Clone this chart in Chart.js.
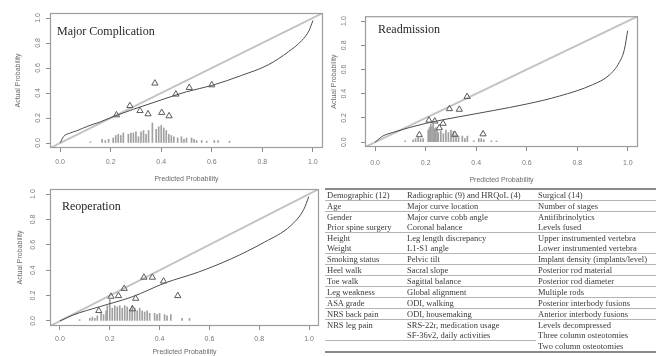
<!DOCTYPE html>
<html>
<head>
<meta charset="utf-8">
<script src="https://cdn.jsdelivr.net/npm/chart.js@4.4.1/dist/chart.umd.min.js"></script>
<style>
  body { margin: 0; background: #fff; }
  #page { position: relative; width: 656px; height: 356px; overflow: hidden; }
  canvas { position: absolute; }
  #vars {
    position: absolute; left: 325px; top: 188px; width: 331px;
    border-collapse: collapse; table-layout: fixed;
    font-family: "Liberation Serif", "Times New Roman", serif; font-size: 8.5px; color: #3a3a3a;
    border-top: 2px solid #8a8a8a; border-bottom: 2px solid #8a8a8a;
  }
  #vars td { height: 10px; line-height: 10px; padding: 0 0 0 2px; white-space: nowrap; overflow: hidden; }
  #vars tr.rule td { border-bottom: 1px solid #b4b4b4; }
  #vars tr.rule-l td.c1, #vars tr.rule-l td.c2 { border-bottom: 1px solid #b4b4b4; }
</style>
</head>
<body>
<div id="page">
  <canvas id="compChart" width="328" height="186" style="left:0;top:0"></canvas>
  <canvas id="readmChart" width="328" height="186" style="left:328px;top:0"></canvas>
  <canvas id="reopChart" width="324" height="180" style="left:0;top:176px"></canvas>
  <table id="vars">
    <colgroup><col style="width:80px"><col style="width:131px"><col style="width:120px"></colgroup>
    <tbody></tbody>
  </table>
</div>
<script>
// ideal line
var diagX = [-0.04, 1.04];
var diagY = [-0.04, 1.04];

// Major complication
var compTriX = [0.223, 0.276, 0.316, 0.348, 0.375, 0.402, 0.431, 0.458, 0.511, 0.600];
var compTriY = [0.224, 0.298, 0.258, 0.232, 0.478, 0.243, 0.216, 0.390, 0.443, 0.464];
var compCurveX = [0, 0.013, 0.04, 0.066, 0.11, 0.16, 0.219, 0.29, 0.4, 0.5, 0.6, 0.717, 0.823, 0.903, 0.956, 0.985, 1.0];
var compCurveY = [0, 0.05, 0.08, 0.098, 0.135, 0.17, 0.218, 0.27, 0.345, 0.41, 0.46, 0.54, 0.625, 0.73, 0.82, 0.9, 0.98];
var compRugX = [0.12, 0.166, 0.179, 0.192, 0.21, 0.22, 0.23, 0.24, 0.25, 0.27, 0.28, 0.29, 0.30, 0.31, 0.32, 0.33, 0.34, 0.35, 0.365, 0.38,
                0.39, 0.40, 0.41, 0.42, 0.43, 0.44, 0.45, 0.465, 0.48, 0.49, 0.50, 0.52, 0.53, 0.54, 0.56, 0.58, 0.61, 0.625, 0.67];
var compRugH = [0.01, 0.03, 0.02, 0.03, 0.04, 0.06, 0.07, 0.06, 0.08, 0.07, 0.08, 0.08, 0.09, 0.05, 0.09, 0.1, 0.07, 0.1, 0.16, 0.11,
                0.13, 0.14, 0.12, 0.1, 0.07, 0.06, 0.05, 0.04, 0.05, 0.03, 0.04, 0.04, 0.03, 0.02, 0.02, 0.015, 0.02, 0.02, 0.015];

// Readmission
var readmTriX = [0.175, 0.213, 0.236, 0.254, 0.269, 0.294, 0.315, 0.333, 0.364, 0.427];
var readmTriY = [0.06, 0.18, 0.173, 0.117, 0.154, 0.275, 0.063, 0.27, 0.375, 0.067];
var readmCurveX = [0, 0.03, 0.07, 0.2, 0.333, 0.465, 0.6, 0.73, 0.86, 0.926, 0.966, 0.986, 0.999];
var readmCurveY = [0, 0.05, 0.08, 0.155, 0.21, 0.26, 0.315, 0.381, 0.474, 0.553, 0.659, 0.764, 0.92];
var readmRugX = [0.119, 0.15, 0.16, 0.17, 0.18, 0.19, 0.21, 0.215, 0.22, 0.225, 0.23, 0.235, 0.24, 0.245, 0.25, 0.26,
                 0.27, 0.28, 0.29, 0.30, 0.31, 0.32, 0.33, 0.345, 0.355, 0.365, 0.39, 0.41, 0.42, 0.43, 0.46, 0.48];
var readmRugH = [0.01, 0.02, 0.03, 0.04, 0.03, 0.03, 0.1, 0.12, 0.15, 0.13, 0.15, 0.11, 0.12, 0.1, 0.08, 0.09,
                 0.07, 0.1, 0.08, 0.1, 0.09, 0.06, 0.05, 0.05, 0.03, 0.05, 0.01, 0.03, 0.03, 0.02, 0.01, 0.01];

// Reoperation
var reopTriX = [0.156, 0.205, 0.235, 0.258, 0.291, 0.304, 0.337, 0.371, 0.416, 0.473];
var reopTriY = [0.08, 0.193, 0.198, 0.255, 0.094, 0.177, 0.343, 0.343, 0.313, 0.198];
var reopCurveX = [0, 0.053, 0.159, 0.29, 0.423, 0.556, 0.688, 0.82, 0.926, 0.979, 0.999];
var reopCurveY = [0, 0.047, 0.112, 0.19, 0.3, 0.385, 0.49, 0.62, 0.75, 0.88, 0.98];
var reopRugX = [0.079, 0.12, 0.13, 0.14, 0.15, 0.165, 0.175, 0.185, 0.19, 0.20, 0.21, 0.22, 0.23, 0.24, 0.25, 0.26, 0.27,
                0.28, 0.29, 0.30, 0.31, 0.32, 0.33, 0.34, 0.35, 0.36, 0.38, 0.39, 0.40, 0.42, 0.43, 0.445, 0.49, 0.52];
var reopRugH = [0.01, 0.02, 0.03, 0.02, 0.04, 0.06, 0.05, 0.08, 0.12, 0.17, 0.1, 0.12, 0.11, 0.12, 0.1, 0.12, 0.11,
                0.09, 0.12, 0.1, 0.08, 0.1, 0.08, 0.07, 0.08, 0.06, 0.06, 0.05, 0.06, 0.05, 0.04, 0.05, 0.02, 0.02];

var probTicks = [0, 0.2, 0.4, 0.6, 0.8, 1.0];

// variable table
var tableHead = ["Demographic (12)", "Radiographic (9) and HRQoL (4)", "Surgical (14)"];
var demographicVars = ["Age", "Gender", "Prior spine surgery", "Height", "Weight", "Smoking status", "Heel walk",
  "Toe walk", "Leg weakness", "ASA grade", "NRS back pain", "NRS leg pain"];
var radiographicVars = ["Major curve location", "Major curve cobb angle", "Coronal balance", "Leg length discrepancy",
  "L1-S1 angle", "Pelvic tilt", "Sacral slope", "Sagittal balance", "Global alignment", "ODI, walking",
  "ODI, housemaking", "SRS-22r, medication usage", "SF-36v2, daily activities"];
var surgicalVars = ["Number of stages", "Antifibrinolytics", "Levels fused", "Upper instrumented vertebra",
  "Lower instrumented vertebra", "Implant density (implants/level)", "Posterior rod material", "Posterior rod diameter",
  "Multiple rods", "Posterior interbody fusions", "Anterior interbody fusions", "Levels decompressed",
  "Three column osteotomies", "Two column osteotomies"];

var sans = "'Liberation Sans', Arial, sans-serif";
Chart.defaults.font.family = sans;

function pts(xs, ys) {
  return xs.map(function (x, i) { return { x: x, y: ys[i] }; });
}

// R-style frame round the plotting region plus the panel caption
var framePlugin = {
  id: 'frame',
  afterDatasetsDraw: function (chart, args, opts) {
    var a = chart.chartArea, ctx = chart.ctx;
    ctx.save();
    ctx.strokeStyle = '#9c9c9c';
    ctx.lineWidth = 1.2;
    ctx.strokeRect(a.left + 0.5, a.top + 0.5, a.right - a.left - 1, a.bottom - a.top - 1);
    ctx.fillStyle = '#262626';
    ctx.font = "12px 'Liberation Serif', 'Times New Roman', serif";
    ctx.textBaseline = 'middle';
    ctx.fillText(opts.text, a.left + opts.dx, a.top + opts.dy);
    ctx.restore();
  }
};

function calibrationChart(id, p) {
  return new Chart(id, {
    type: 'scatter',
    plugins: [framePlugin],
    data: {
      datasets: [
        { type: 'line', data: pts(diagX, diagY), borderColor: '#c2c2c2', borderWidth: 2, pointRadius: 0, order: 3 },
        { type: 'bar', data: pts(p.rugX, p.rugH), backgroundColor: '#a0a0a0', barThickness: 1, order: 4 },
        { type: 'line', data: pts(p.curveX, p.curveY), borderColor: '#4c4c4c', borderWidth: 1, pointRadius: 0,
          cubicInterpolationMode: 'monotone', order: 2 },
        { type: 'scatter', data: pts(p.triX, p.triY), pointStyle: 'triangle', pointRadius: 3.6,
          borderColor: '#5a5a5a', backgroundColor: 'rgba(0,0,0,0)', borderWidth: 1, order: 1 }
      ]
    },
    options: {
      responsive: false,
      animation: false,
      layout: { padding: { top: 13, right: p.padRight, left: 0, bottom: 0 } },
      plugins: {
        legend: { display: false },
        tooltip: { enabled: false },
        frame: { text: p.title, dx: p.titleDx, dy: p.titleDy }
      },
      scales: {
        x: {
          type: 'linear', min: -0.04, max: 1.04, offset: false,
          afterBuildTicks: function (s) { s.ticks = probTicks.map(function (v) { return { value: v }; }); },
          afterFit: function (s) { s.height = p.xAxisH; },
          ticks: { callback: function (v) { return v.toFixed(1); }, color: '#7a7a7a', font: { size: 7 },
                   padding: p.xTickPad, maxRotation: 0 },
          grid: { drawOnChartArea: false, offset: false, tickLength: 4, color: '#8c8c8c' },
          border: { display: false },
          title: { display: true, text: 'Predicted Probability', color: '#6a6a6a', font: { size: 7 },
                   padding: { top: 0, bottom: p.xTitlePad } }
        },
        y: {
          type: 'linear', min: -0.04, max: 1.04,
          afterBuildTicks: function (s) { s.ticks = probTicks.map(function (v) { return { value: v }; }); },
          afterFit: function (s) { s.width = p.yAxisW; },
          ticks: { callback: function (v) { return v.toFixed(1); }, color: '#7a7a7a', font: { size: 7 },
                   padding: p.yTickPad, minRotation: 90, maxRotation: 90, crossAlign: 'center' },
          grid: { drawOnChartArea: false, tickLength: 4, color: '#8c8c8c' },
          border: { display: false },
          title: { display: true, text: 'Actual Probability', color: '#6a6a6a', font: { size: 7 },
                   padding: { top: p.yTitlePad, bottom: 0 } }
        }
      }
    }
  });
}

calibrationChart('compChart', {
  title: 'Major Complication', titleDx: 7, titleDy: 19,
  triX: compTriX, triY: compTriY, curveX: compCurveX, curveY: compCurveY, rugX: compRugX, rugH: compRugH,
  padRight: 5, yAxisW: 50, xAxisH: 38, xTickPad: 6, yTickPad: 3, xTitlePad: 3, yTitlePad: 14
});

calibrationChart('readmChart', {
  title: 'Readmission', titleDx: 13, titleDy: 14,
  triX: readmTriX, triY: readmTriY, curveX: readmCurveX, curveY: readmCurveY, rugX: readmRugX, rugH: readmRugH,
  padRight: 18, yAxisW: 37, xAxisH: 39, xTickPad: 8, yTickPad: 12, xTitlePad: 2, yTitlePad: 2
});

calibrationChart('reopChart', {
  title: 'Reoperation', titleDx: 12, titleDy: 18,
  triX: reopTriX, triY: reopTriY, curveX: reopCurveX, curveY: reopCurveY, rugX: reopRugX, rugH: reopRugH,
  padRight: 1, yAxisW: 50, xAxisH: 30, xTickPad: 5, yTickPad: 8, xTitlePad: 0, yTitlePad: 16
});

// candidate variables table
(function () {
  var body = document.querySelector('#vars tbody');
  var nRows = 1 + Math.max(demographicVars.length, radiographicVars.length, surgicalVars.length);
  var ruled = [0, 1, 3, 5, 6, 7, 8, 9, 10, 11];
  for (var r = 0; r < nRows; r++) {
    var cells = r === 0 ? tableHead
      : [demographicVars[r - 1] || '', radiographicVars[r - 1] || '', surgicalVars[r - 1] || ''];
    var tr = document.createElement('tr');
    if (ruled.indexOf(r) >= 0) tr.className = 'rule';
    else if (r === 13) tr.className = 'rule-l';
    cells.forEach(function (txt, c) {
      var td = document.createElement('td');
      td.className = 'c' + (c + 1);
      td.textContent = txt;
      tr.appendChild(td);
    });
    body.appendChild(tr);
  }
})();
</script>
</body>
</html>
